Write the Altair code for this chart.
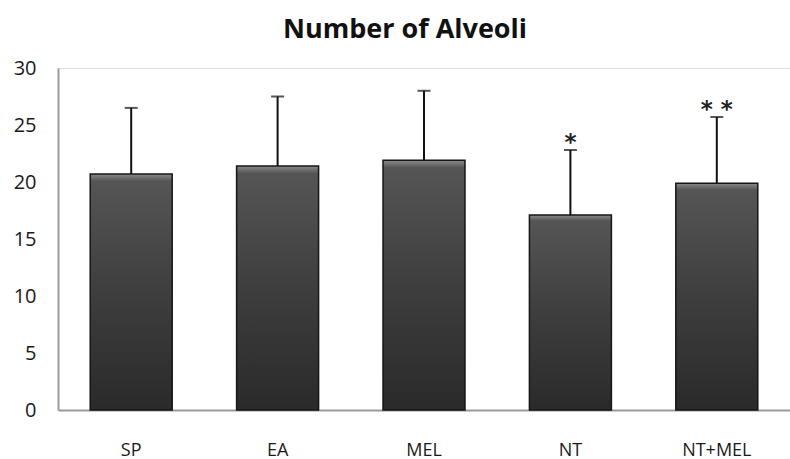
import altair as alt
import pandas as pd

groups = ["SP", "EA", "MEL", "NT", "NT+MEL"]
means = [20.7, 21.4, 21.9, 17.1, 19.9]
upper = [26.5, 27.5, 28.0, 22.8, 25.7]
marks = ["", "", "", "*", "* *"]

df = pd.DataFrame({"group": groups, "mean": means, "upper": upper, "sig": marks})

x = alt.X("group:N", sort=groups, title=None,
          scale=alt.Scale(paddingInner=0.44, paddingOuter=0.22),
          axis=alt.Axis(labelAngle=0, ticks=False, domainColor="#9a9a9a", domainWidth=2,
                        labelFont="Open Sans", labelFontSize=18, labelColor="#1a1a1a",
                        labelPadding=31))
y_scale = alt.Scale(domain=[0, 30])

base = alt.Chart(df)

bars = base.mark_bar(
    stroke="#161616", strokeWidth=1.5,
    color=alt.Gradient(gradient="linear", x1=0, x2=0, y1=0, y2=1,
                       stops=[alt.GradientStop(offset=0, color="#8a8a8a"),
                              alt.GradientStop(offset=0.03, color="#555555"),
                              alt.GradientStop(offset=0.5, color="#3e3e3e"),
                              alt.GradientStop(offset=1, color="#2a2a2a")])
).encode(
    x=x,
    y=alt.Y("mean:Q", scale=y_scale, title=None,
            axis=alt.Axis(values=[0, 5, 10, 15, 20, 25, 30], grid=False, ticks=False,
                          domainColor="#9a9a9a", domainWidth=2,
                          labelFont="Open Sans", labelFontSize=20, labelColor="#1a1a1a",
                          labelPadding=22))
)

err = base.mark_rule(color="#111", strokeWidth=2).encode(
    x=x, y=alt.Y("mean:Q", scale=y_scale), y2="upper:Q")

caps = base.mark_tick(color="#111", thickness=2, size=13, orient="horizontal").encode(
    x=x, y=alt.Y("upper:Q", scale=y_scale))

stars = base.mark_text(fontSize=23, font="DejaVu Sans", fontWeight="bold", color="#222",
                       dy=-7, baseline="middle").encode(
    x=x, y=alt.Y("upper:Q", scale=y_scale), text="sig:N")

chart = alt.layer(bars, err, caps, stars).properties(
    width=732, height=342,
    title=alt.TitleParams("Number of Alveoli", font="Open Sans", fontSize=27,
                          fontWeight="bold", color="#111", offset=14, dx=-19),
    autosize=alt.AutoSizeParams(type="none"),
    padding={"left": 58, "top": 68, "right": 0, "bottom": 49}
).configure_view(stroke=None).configure(background="white")

chart.save("out.html", embed_options={"renderer": "svg", "actions": False})
